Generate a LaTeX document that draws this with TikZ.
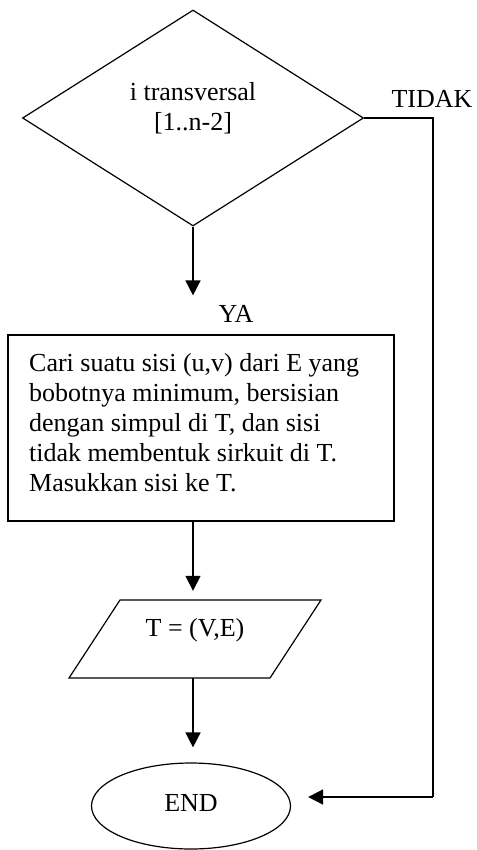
\documentclass[tikz,border=0pt]{standalone}
\usepackage{fontspec}
\setmainfont{Liberation Serif}
\usetikzlibrary{shapes.geometric,arrows.meta}
\begin{document}
\begin{tikzpicture}[x=1pt,y=-1pt,
  every node/.style={font=\fontsize{26}{30}\selectfont, inner sep=0pt},
  shapeline/.style={draw=black, line width=1.2pt},
  arr/.style={line width=1.6pt, -{Triangle[width=15pt,length=15pt]}},
  plainline/.style={line width=1.6pt}]
\useasboundingbox (0,0) rectangle (476,850);
% decision
\node[shapeline, diamond, minimum width=341pt, minimum height=216pt] (dia) at (193,118) {};
\node[anchor=north, align=center] (diatext) at (193,82) {i transversal\\\relax{[1..n-2]}};
% process box
\node[shapeline, rectangle, minimum width=386pt, minimum height=186pt] (box) at (201,428) {};
\node[anchor=north west, align=left] (boxtext) at (29,353) {Cari suatu sisi (u,v) dari E yang\\bobotnya minimum, bersisian\\dengan simpul di T, dan sisi\\tidak membentuk sirkuit di T.\\Masukkan sisi ke T.};
% output parallelogram
\node[minimum width=201pt, minimum height=78pt] (io) at (195,639) {};
\draw[shapeline] (120,600) -- (321,600) -- (270,678) -- (69,678) -- cycle;
\node[anchor=base] (iotext) at (195,636) {T = (V,E)};
% terminal
\node[shapeline, ellipse, minimum width=199pt, minimum height=86pt] (end) at (191,806) {};
\node[anchor=base] (endtext) at (191,811) {END};
% labels
\node[anchor=base] (ya) at (236,322) {YA};
\node[anchor=base] (tidak) at (432,108) {TIDAK};
% connectors
\coordinate (c1) at (433,118);
\coordinate (c2) at (433,797);
\draw[arr, shorten >=39pt] (dia.south) -- (dia.south |- box.north);
\draw[arr, shorten >=9pt] (dia.south |- box.south) -- (dia.south |- io.north);
\draw[arr, shorten >=15pt] (dia.south |- io.south) -- (dia.south |- end.north);
\draw[plainline] (dia.east) -- (c1) -- (c2);
\draw[arr, shorten >=17pt] (c2) -- (end.east |- c2);
\end{tikzpicture}
\end{document}
